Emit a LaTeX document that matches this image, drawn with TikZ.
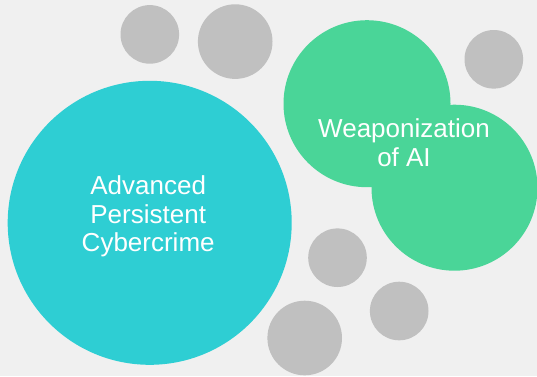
\documentclass[tikz,border=0pt]{standalone}
\usepackage{fontspec}
\setmainfont{Liberation Sans}
\definecolor{paper}{HTML}{F0F0F0}
\definecolor{aptcyan}{HTML}{2ECED3}
\definecolor{aigreen}{HTML}{4AD598}
\definecolor{dotgrey}{HTML}{C0C0C0}

\begin{document}
\begin{tikzpicture}[x=1pt,y=-1pt,
    bubble/.style={circle,inner sep=0pt,outer sep=0pt,minimum size=#1},
    greybubble/.style={bubble=#1,fill=dotgrey},
    bubbletext/.style={text=white,align=center,inner sep=0pt,font=\fontsize{26}{28.5}\selectfont}]
         \fill[paper] (0,0) rectangle (537,376);
         \useasboundingbox (0,0) rectangle (537,376);
         \clip (0,0) rectangle (537,376);

         % small grey dots
         \node[greybubble=58.6pt] (g1) at (149.8,34.4) {};
         \node[greybubble=74.6pt] (g2) at (235.2,41.6) {};
         \node[greybubble=58.6pt] (g3) at (493.8,59.3) {};
         \node[greybubble=58.6pt] (g4) at (337.5,257.7) {};
         \node[greybubble=58.6pt] (g5) at (399.2,311) {};
         \node[greybubble=74.6pt] (g6) at (304.7,338) {};

         % main bubbles
         \node[bubble=284pt,fill=aptcyan] (apt) at (149.7,222.8) {};
         \node[bubble=167pt,fill=aigreen] (ai1) at (367,103.7) {};
         \node[bubble=166pt,fill=aigreen] (ai2) at (454.5,187.7) {};

         \node[bubbletext] (apttext) at (148.2,216.5) {Advanced\\Persistent\\Cybercrime};
         \node[bubbletext] (aitext) at (404,142.5) {Weaponization\\of AI};
      \end{tikzpicture}
\end{document}
